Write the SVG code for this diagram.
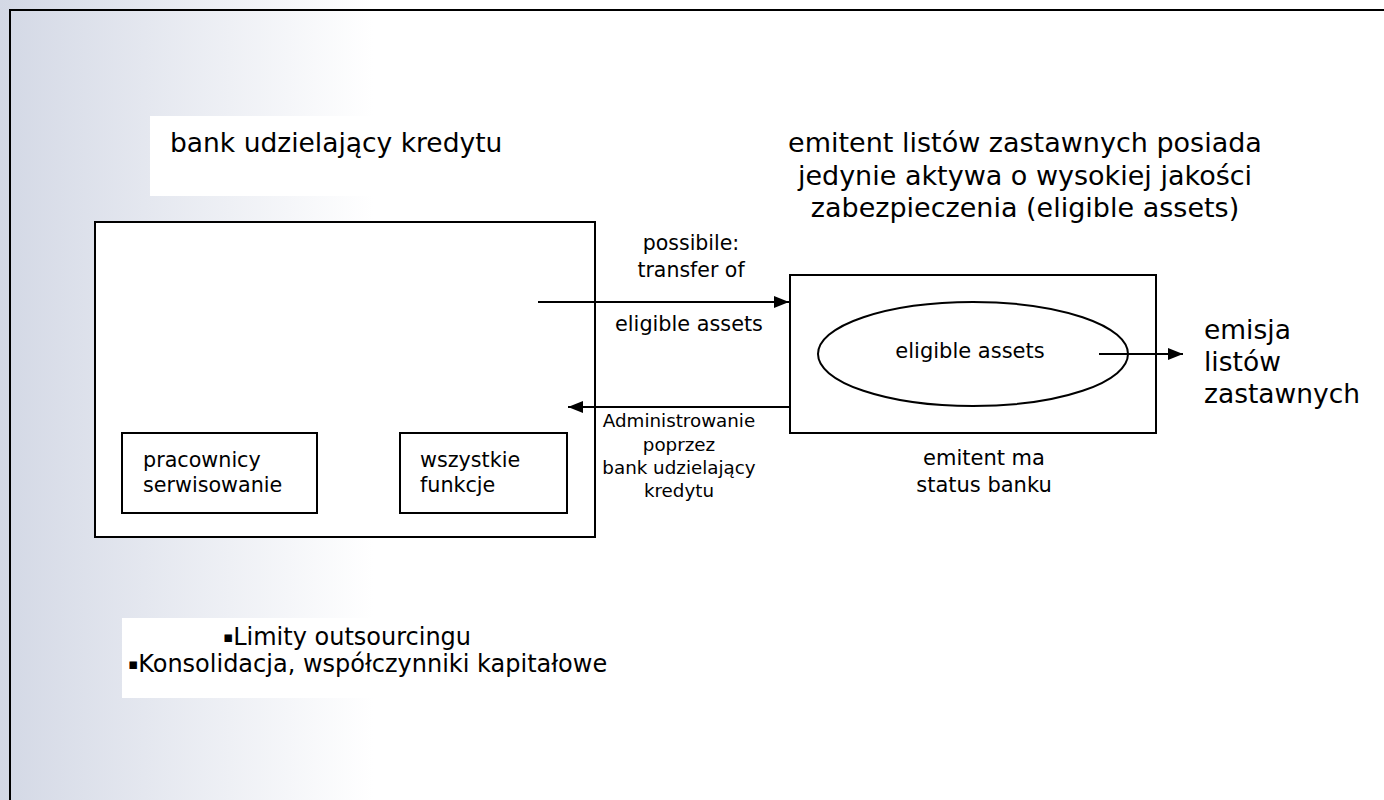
<svg xmlns="http://www.w3.org/2000/svg" width="1384" height="800" viewBox="0 0 1384 800">
<defs>
<linearGradient id="bg" x1="0" y1="0" x2="1384" y2="0" gradientUnits="userSpaceOnUse">
<stop offset="0" stop-color="#d3d8e5"/>
<stop offset="0.27" stop-color="#ffffff"/>
<stop offset="1" stop-color="#ffffff"/>
</linearGradient>
<marker id="ahb" viewBox="0 0 15 12" refX="15" refY="6" markerWidth="15" markerHeight="12" markerUnits="userSpaceOnUse" orient="auto">
<path d="M0,0 L15,6 L0,12 z" fill="#000"/>
</marker>
</defs>
<style>
.box{fill:#fff;stroke:#000;stroke-width:2}
.v{font-family:"DejaVu Sans",Verdana,sans-serif;fill:#000}
.line{stroke:#000;stroke-width:2;fill:none}
.bul{font-size:15px}
</style>
<rect x="0" y="0" width="1384" height="800" fill="url(#bg)"/>
<rect x="10" y="10" width="1400" height="820" fill="none" stroke="#000" stroke-width="2"/>

<g id="title-bank">
<rect x="150" y="116" width="380" height="80" fill="#fff"/>
<text class="v" x="170" y="152" font-size="26.5">bank udzielający kredytu</text>
</g>

<g id="bank">
<rect class="box" x="95" y="222" width="500" height="315"/>
</g>
<g id="pracownicy">
<rect class="box" x="122" y="433" width="195" height="80"/>
<text class="v" x="143" y="467" font-size="20.7">pracownicy</text>
<text class="v" x="143" y="492" font-size="20.7">serwisowanie</text>
</g>
<g id="funkcje">
<rect class="box" x="400" y="433" width="167" height="80"/>
<text class="v" x="420" y="467" font-size="20.7">wszystkie</text>
<text class="v" x="420" y="492" font-size="20.7">funkcje</text>
</g>

<g id="title-emitent">
<text class="v" x="1025" y="152" font-size="27" text-anchor="middle">emitent listów zastawnych posiada</text>
<text class="v" x="1025" y="185" font-size="27" text-anchor="middle">jedynie aktywa o wysokiej jakości</text>
<text class="v" x="1025" y="217" font-size="27" text-anchor="middle">zabezpieczenia (eligible assets)</text>
</g>

<g id="emitent">
<rect class="box" x="790" y="275" width="366" height="158"/>
<ellipse cx="973" cy="354" rx="155" ry="52" fill="none" stroke="#000" stroke-width="2"/>
<text class="v" x="970" y="358" font-size="21" text-anchor="middle">eligible assets</text>
<text class="v" x="984" y="465" font-size="21" text-anchor="middle">emitent ma</text>
<text class="v" x="984" y="492" font-size="21" text-anchor="middle">status banku</text>
</g>

<g id="emisja">
<text class="v" x="1204" y="339" font-size="26.5">emisja</text>
<text class="v" x="1204" y="371" font-size="26.5">listów</text>
<text class="v" x="1204" y="403" font-size="26.5">zastawnych</text>
</g>

<g id="limity">
<rect x="122" y="618" width="520" height="80" fill="#fff"/>
<text class="v" x="223" y="645" font-size="24"><tspan class="bul" dy="-3">▪</tspan><tspan dy="3">Limity outsourcingu</tspan></text>
<text class="v" x="128" y="672" font-size="24"><tspan class="bul" dy="-3">▪</tspan><tspan dy="3">Konsolidacja, współczynniki kapitałowe</tspan></text>
</g>

<g id="connectors">
<line class="line" x1="538" y1="302" x2="789" y2="302" marker-end="url(#ahb)"/>
<text class="v" x="691" y="250" font-size="20.5" text-anchor="middle">possibile:</text>
<text class="v" x="691" y="277" font-size="20.5" text-anchor="middle">transfer of</text>
<text class="v" x="689" y="331" font-size="20.8" text-anchor="middle">eligible assets</text>
<line class="line" x1="790" y1="407" x2="568" y2="407" marker-end="url(#ahb)"/>
<text class="v" x="679" y="427" font-size="18.3" text-anchor="middle">Administrowanie</text>
<text class="v" x="679" y="451" font-size="18.3" text-anchor="middle">poprzez</text>
<text class="v" x="679" y="474" font-size="18.3" text-anchor="middle">bank udzielający</text>
<text class="v" x="679" y="497" font-size="18.3" text-anchor="middle">kredytu</text>
<line class="line" x1="1099" y1="354" x2="1183" y2="354" marker-end="url(#ahb)"/>
</g>
</svg>
